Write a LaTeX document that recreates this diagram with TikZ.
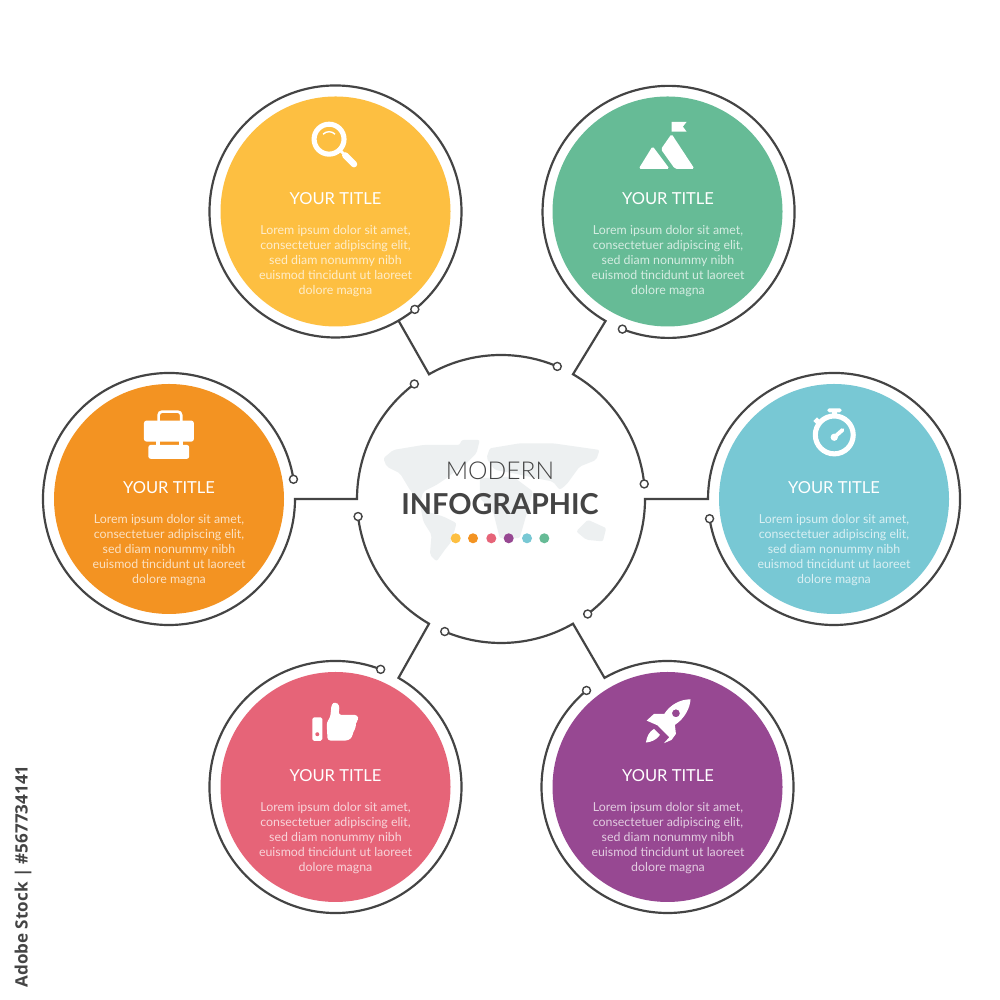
\documentclass[tikz,border=0pt]{standalone}
\usepackage{fontspec}
\setmainfont{Lato}
\newfontfamily\lightfont{Lato Light}
\newfontfamily\stockfont{Open Sans}
\definecolor{wiregray}{HTML}{444444}
\definecolor{discyellow}{HTML}{FDBF41}
\definecolor{discgreen}{HTML}{66BB96}
\definecolor{discorange}{HTML}{F39322}
\definecolor{discblue}{HTML}{78C8D4}
\definecolor{discpink}{HTML}{E66478}
\definecolor{discpurple}{HTML}{974892}
\definecolor{mapgray}{HTML}{EDF0F1}
\tikzset{
	disc/.style={circle,fill=#1,minimum size=2.3cm,inner sep=0pt,outer sep=0.11cm},
	hubring/.style={circle,minimum size=2.88cm,inner sep=0pt,outer sep=0pt},
	wire/.style={draw=wiregray,line width=0.62pt,miter limit=10},
	termdot/.style={circle,draw=wiregray,fill=white,line width=0.4pt,minimum size=0.08cm,inner sep=0pt},
	colordot/.style={circle,fill=#1,minimum size=0.1cm,inner sep=0pt},
	titletext/.style={text=white,font=\fontsize{4.7}{5}\selectfont},
	bodytext/.style={text=white,text opacity=0.72,align=center,font=\fontsize{3.52}{4.27}\selectfont},
	iconpart/.style={shift={#1},x=0.003333cm,y=-0.003333cm},
}
\begin{document}
\begin{tikzpicture}
	\useasboundingbox (0,0) rectangle (10,10);
	\fill[white] (0,0) rectangle (10,10);
	
	% world map behind the heading
	\begin{scope}[iconpart={(3.80,5.65)},mapgray]
		\fill[rounded corners=0.6pt] (10,70) -- (40,45) -- (130,30) -- (240,30) -- (245,15) -- (300,15) -- (290,55) -- (255,90) -- (225,110) -- (200,130) -- (170,150) -- (130,170) -- (120,205) -- (90,165) -- (60,115) -- (20,95) -- cycle;
		\fill[rounded corners=0.6pt] (120,205) -- (140,230) -- (190,245) -- (230,265) -- (215,320) -- (195,345) -- (170,380) -- (150,360) -- (155,300) -- (130,260) -- cycle;
		\fill[rounded corners=0.6pt] (330,40) -- (420,25) -- (520,25) -- (660,45) -- (650,75) -- (600,95) -- (560,150) -- (540,165) -- (520,140) -- (470,130) -- (400,115) -- (345,105) -- (320,70) -- cycle;
		\fill[rounded corners=0.6pt] (300,130) -- (400,125) -- (460,170) -- (440,240) -- (420,310) -- (360,310) -- (340,230) -- (300,190) -- cycle;
		\fill[rounded corners=0.6pt] (590,290) -- (625,255) -- (680,280) -- (670,320) -- (620,315) -- cycle;
	\end{scope}
	
	\node[disc=discyellow] (yellow) at (3.355,7.885) {};
	\node[disc=discgreen] (green) at (6.675,7.885) {};
	\node[disc=discorange] (orange) at (1.69,5.01) {};
	\node[disc=discblue] (blue) at (8.34,5.01) {};
	\node[disc=discpink] (pink) at (3.355,2.13) {};
	\node[disc=discpurple] (purple) at (6.675,2.13) {};
	\node[hubring] (hub) at (5.01,5.01) {};
	
	% ring, connector and hub arc are one line each
	\draw[wire] (yellow.-51) arc[start angle=-51,end angle=-420,radius=1.26] -- (hub.120) arc[start angle=120,end angle=67,radius=1.44];
	\draw[wire] (green.-111.5) arc[start angle=-111.5,end angle=240,radius=1.26] -- (hub.60) arc[start angle=60,end angle=6.4,radius=1.44];
	\draw[wire] (blue.-171) arc[start angle=-171,end angle=180,radius=1.26] -- (hub.0) arc[start angle=0,end angle=-53.7,radius=1.44];
	\draw[wire] (purple.-230) arc[start angle=-230,end angle=120,radius=1.26] -- (hub.-60) arc[start angle=-60,end angle=-113,radius=1.44];
	\draw[wire] (pink.-291) arc[start angle=-291,end angle=60,radius=1.26] -- (hub.-120) arc[start angle=-120,end angle=-173,radius=1.44];
	\draw[wire] (orange.-351) arc[start angle=-351,end angle=0,radius=1.26] -- (hub.180) arc[start angle=180,end angle=127.4,radius=1.44];
	
	\node[termdot] (yellowdot) at (yellow.-51) {};
	\node[termdot] (greendot) at (green.-111.5) {};
	\node[termdot] (bluedot) at (blue.-171) {};
	\node[termdot] (purpledot) at (purple.-230) {};
	\node[termdot] (pinkdot) at (pink.-291) {};
	\node[termdot] (orangedot) at (orange.-351) {};
	\node[termdot] (hubdota) at (hub.67) {};
	\node[termdot] (hubdotb) at (hub.6.4) {};
	\node[termdot] (hubdotc) at (hub.-53.7) {};
	\node[termdot] (hubdotd) at (hub.-113) {};
	\node[termdot] (hubdote) at (hub.-173) {};
	\node[termdot] (hubdotf) at (hub.127.4) {};
	
	% heading in the hub
	\node[text=wiregray,font=\lightfont\fontsize{7}{7}\selectfont] (modern) at (5.0,5.29) {MODERN};
	\node[text=wiregray,font=\bfseries\fontsize{8.2}{9}\selectfont] (infographic) at (5.0,4.96) {INFOGRAPHIC};
	\node[colordot=discyellow] (doty) at (4.557,4.617) {};
	\node[colordot=discorange] (doto) at (4.73,4.617) {};
	\node[colordot=discpink] (dotp) at (4.913,4.617) {};
	\node[colordot=discpurple] (dotv) at (5.087,4.617) {};
	\node[colordot=discblue] (dotb) at (5.27,4.617) {};
	\node[colordot=discgreen] (dotg) at (5.443,4.617) {};
	
	% titles and body texts
	\node[titletext] (yellowtitle) at (3.355,8.01) {YOUR TITLE};
	\node[bodytext] (yellowbody) at (3.355,7.385) {Lorem ipsum dolor sit amet,\\consectetuer adipiscing elit,\\sed diam nonummy nibh\\euismod tincidunt ut laoreet\\dolore magna};
	\node[titletext] (greentitle) at (6.68,8.01) {YOUR TITLE};
	\node[bodytext] (greenbody) at (6.68,7.385) {Lorem ipsum dolor sit amet,\\consectetuer adipiscing elit,\\sed diam nonummy nibh\\euismod tincidunt ut laoreet\\dolore magna};
	\node[titletext] (orangetitle) at (1.69,5.12) {YOUR TITLE};
	\node[bodytext] (orangebody) at (1.69,4.50) {Lorem ipsum dolor sit amet,\\consectetuer adipiscing elit,\\sed diam nonummy nibh\\euismod tincidunt ut laoreet\\dolore magna};
	\node[titletext] (bluetitle) at (8.34,5.12) {YOUR TITLE};
	\node[bodytext] (bluebody) at (8.34,4.50) {Lorem ipsum dolor sit amet,\\consectetuer adipiscing elit,\\sed diam nonummy nibh\\euismod tincidunt ut laoreet\\dolore magna};
	\node[titletext] (pinktitle) at (3.355,2.24) {YOUR TITLE};
	\node[bodytext] (pinkbody) at (3.355,1.62) {Lorem ipsum dolor sit amet,\\consectetuer adipiscing elit,\\sed diam nonummy nibh\\euismod tincidunt ut laoreet\\dolore magna};
	\node[titletext] (purpletitle) at (6.68,2.24) {YOUR TITLE};
	\node[bodytext] (purplebody) at (6.68,1.62) {Lorem ipsum dolor sit amet,\\consectetuer adipiscing elit,\\sed diam nonummy nibh\\euismod tincidunt ut laoreet\\dolore magna};
	
	% magnifier
	\begin{scope}[iconpart={(2.00,9.20)},white]
		\draw[line width=1.45pt] (388,178) circle[radius=45];
		\draw[line width=0.85pt,line cap=butt] (423,213) -- (437,227);
		\draw[line width=1.85pt,line cap=round] (437,227) -- (463,253);
		\draw[line width=0.4pt] (370,163) .. controls (380,153) and (396,153) .. (406,163);
	\end{scope}
	
	% mountains with flag
	\begin{scope}[iconpart={(6.20,8.90)},white]
		\fill (155,36) -- (200,36) -- (189,50) -- (200,65) -- (155,65) -- cycle;
		\fill[rounded corners=0.5pt] (155,72) -- (224,177) -- (165,177) -- (123,118) -- cycle;
		\fill[rounded corners=0.5pt] (98,109) -- (149,177) -- (56,177) -- cycle;
	\end{scope}
	
	% briefcase
	\begin{scope}[iconpart={(1.30,6.00)},white]
		\draw[line width=0.75pt,rounded corners=1pt] (86,64) -- (86,35) -- (154,35) -- (154,64);
		\fill[rounded corners=0.7pt] (42,62) rectangle (192,125);
		\fill[rounded corners=0.7pt] (55,135) -- (178,135) -- (178,177) -- (55,177) -- cycle;
		\fill (78,122) rectangle (90,145);
		\fill (148,122) rectangle (160,145);
	\end{scope}
	
	% stopwatch
	\begin{scope}[iconpart={(7.95,6.00)},white]
		\draw[line width=1.45pt] (118,105) circle[radius=57];
		\fill[rounded corners=0.5pt] (97,25) rectangle (140,37);
		\fill (110,37) rectangle (127,50);
		\draw[line width=1.6pt] (61,69) -- (72,58);
		\fill (118,112) circle[radius=11];
		\draw[line width=1.1pt,line cap=round] (118,112) -- (143,90);
	\end{scope}
	
	% thumb up
	\begin{scope}[iconpart={(2.95,3.10)},white]
		\fill[rounded corners=0.5pt] (52,82) rectangle (82,153);
		\fill[discpink] (67,133) circle[radius=6];
		\fill[rounded corners=0.8pt] (98,152) -- (95,98) -- (106,82) -- (110,42) -- (122,36) -- (134,46) -- (131,75) -- (188,75) -- (191,90) -- (181,100) -- (184,112) -- (175,125) -- (172,142) -- (160,152) -- cycle;
	\end{scope}
	
	% rocket
	\begin{scope}[iconpart={(6.30,3.10)},white]
		\fill[even odd rule] (182,28) .. controls (150,28) and (120,45) .. (103,72) -- (72,72) -- (50,92) -- (82,106) -- (118,142) -- (102,160) -- (125,150) -- (138,132) -- (135,105) .. controls (165,85) and (180,55) .. cycle (138,70) circle[radius=12];
		\fill (48,158) .. controls (50,140) and (58,125) .. (72,117) -- (90,135) .. controls (80,150) and (65,156) .. cycle;
	\end{scope}
	
	\node[rotate=90,text=wiregray,font=\stockfont\bfseries\fontsize{4.85}{6}\selectfont] (stocklabel) at (0.23,1.235) {Adobe Stock | \#567734141};
\end{tikzpicture}
\end{document}
